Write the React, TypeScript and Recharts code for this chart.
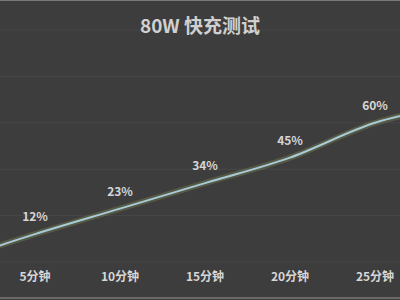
import { LineChart, Line, XAxis, YAxis, CartesianGrid, LabelList } from 'recharts'

const minutes = [0, 5, 10, 15, 20, 25, 30]
const charge = [0, 12, 23, 34, 45, 60, 68]
const tickMinutes = [5, 10, 15, 20, 25]
const gridValues = [0, 20, 40, 60, 80, 100]

const data = minutes.map((m, i) => ({ m, v: charge[i] }))

const font = '"Noto Sans CJK SC", "Noto Sans", sans-serif'

function PointLabel(props: any) {
  const { x, y, value, index } = props
  if (index === 0 || index === minutes.length - 1) return null
  return (
    <text
      x={x}
      y={y - 16}
      textAnchor="middle"
      dominantBaseline="middle"
      fill="#d6d6d6"
      fontSize={12}
      fontWeight="bold"
      fontFamily={font}
    >
      {value}%
    </text>
  )
}

export default function App() {
  return (
    <div style={{ position: 'fixed', left: 0, top: 0, width: 400, height: 300, background: '#3d3d3d', overflow: 'hidden' }}>
      <div style={{ position: 'absolute', left: 0, top: 0, width: 400, height: 1, background: '#7a7a7a' }} />
      <div style={{ position: 'absolute', left: 0, top: 297, width: 400, height: 2, background: '#6a6a6a' }} />
      <LineChart width={400} height={300} data={data} margin={{ top: 30, right: 0, bottom: 0, left: 0 }}>
        <CartesianGrid vertical={false} stroke="#474747" strokeWidth={1} />
        <XAxis
          dataKey="m"
          type="number"
          domain={[5 - 35 / 17, 25 + 25 / 17]}
          allowDataOverflow
          ticks={tickMinutes}
          tickFormatter={(v) => `${v}分钟`}
          tick={{ fontSize: 12, fill: '#d6d6d6', fontFamily: font, fontWeight: 'bold' }}
          tickLine={false}
          axisLine={false}
          tickMargin={4}
          height={38}
        />
        <YAxis hide domain={[0, 100]} ticks={gridValues} allowDataOverflow />
        <Line
          type="monotone"
          dataKey="v"
          stroke="#8e9a5c"
          strokeOpacity={0.3}
          strokeWidth={6}
          dot={false}
          isAnimationActive={false}
        />
        <Line type="monotone" dataKey="v" stroke="#a9cbd6" strokeWidth={2} dot={false} isAnimationActive={false}>
          <LabelList dataKey="v" content={<PointLabel />} />
        </Line>
      </LineChart>
      <div
        style={{
          position: 'absolute',
          left: 0,
          top: 12,
          width: 400,
          textAlign: 'center',
          fontFamily: font,
          fontWeight: 'bold',
          fontSize: 19,
          lineHeight: '26px',
          color: '#d0d0d0',
        }}
      >
        80W 快充测试
      </div>
    </div>
  )
}
